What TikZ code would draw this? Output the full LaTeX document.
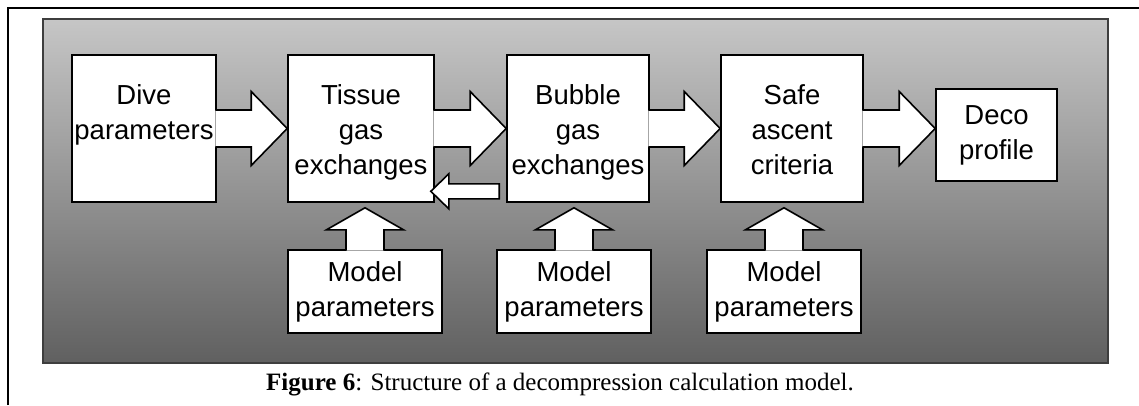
\documentclass[tikz,border=0pt]{standalone}
\usepackage{fontspec}
\setmainfont{Liberation Serif}
\newfontfamily\arialf{Liberation Sans}
\usetikzlibrary{calc}
\definecolor{ptop}{RGB}{198,198,198}
\definecolor{pbot}{RGB}{96,96,96}
\definecolor{pborder}{RGB}{62,62,62}
\newcommand\rblock[2]{%
  \path[barrow] let \p1=(#1.east), \p2=(#2.west) in
    (\x1-1.5pt,\y1+18.5pt) -- (\x2-36pt,\y1+18.5pt) -- (\x2-36pt,\y1+37pt) -- (\x2,\y1)
    -- (\x2-36pt,\y1-37pt) -- (\x2-36pt,\y1-18.5pt) -- (\x1-1.5pt,\y1-18.5pt);}
\newcommand\ublock[2]{%
  \path[barrow] let \p1=(#1.north), \p2=(#2.south) in
    (\x1-19pt,\y1-1.5pt) -- (\x1-19pt,\y2-27pt) -- (\x1-38.5pt,\y2-27pt) -- (\x1,\y2-5pt)
    -- (\x1+38.5pt,\y2-27pt) -- (\x1+19pt,\y2-27pt) -- (\x1+19pt,\y1-1.5pt);}
\begin{document}
\begin{tikzpicture}[x=1pt,y=1pt,
  box/.style={draw=black, fill=white, line width=1.6pt, inner sep=0pt},
  txt/.style={font=\arialf\fontsize{27.5}{35}\selectfont, align=center, inner sep=0pt},
  barrow/.style={draw=black, fill=white, line width=1.6pt, line join=miter},
  frameline/.style={draw=black, line width=2pt}]
\useasboundingbox (0,0) rectangle (1139,-405);
\draw[frameline] (8,-405) -- (8,-8) -- (1139,-8);
\node[draw=pborder, line width=1.6pt, top color=ptop, bottom color=pbot,
      minimum width=1065pt, minimum height=344pt, inner sep=0pt] (panel) at (575.5,-191) {};
% main boxes
\node[box, minimum width=144pt, minimum height=147pt] (dive) at (144,-128.5) {};
\node[box, minimum width=146pt, minimum height=147pt] (tissue) at (361,-128.5) {};
\node[box, minimum width=142pt, minimum height=147pt] (bubble) at (578,-128.5) {};
\node[box, minimum width=142pt, minimum height=147pt] (safe) at (792,-128.5) {};
\node[box, txt, minimum width=121pt, minimum height=92pt] (deco) at (996.5,-135) {Deco\\profile};
% block arrows between main boxes
\rblock{dive}{tissue}
\rblock{tissue}{bubble}
\rblock{bubble}{safe}
\rblock{safe}{deco}
% labels of main boxes
\node[txt, anchor=north] (divet) at ($(dive.north)+(0,-29)$) {\rule{0pt}{21pt}Dive\\parameters};
\node[txt, anchor=north] (tissuet) at ($(tissue.north)+(0,-29)$) {\rule{0pt}{21pt}Tissue\\gas\\exchanges};
\node[txt, anchor=north] (bubblet) at ($(bubble.north)+(0,-29)$) {\rule{0pt}{21pt}Bubble\\gas\\exchanges};
\node[txt, anchor=north] (safet) at ($(safe.north)+(0,-29)$) {\rule{0pt}{21pt}Safe\\ascent\\criteria};
% model boxes
\node[box, txt, minimum width=154pt, minimum height=83pt] (m1) at (365,-291.5) {Model\\parameters};
\node[box, txt, minimum width=154pt, minimum height=83pt] (m2) at (574,-291.5) {Model\\parameters};
\node[box, txt, minimum width=154pt, minimum height=83pt] (m3) at (784,-291.5) {Model\\parameters};
\ublock{m1}{tissue}
\ublock{m2}{bubble}
\ublock{m3}{safe}
% feedback arrow
\path[barrow] let \p1=(bubble.south west), \p2=(tissue.east) in
  (\x1-7pt,\y1+19pt) -- (\x2+14pt,\y1+19pt) -- (\x2+14pt,\y1+29pt) -- (\x2-4pt,\y1+11.5pt)
  -- (\x2+14pt,\y1-6pt) -- (\x2+14pt,\y1+4pt) -- (\x1-7pt,\y1+4pt) -- cycle;
% caption
\node[font=\fontsize{25}{30}\selectfont, anchor=base, inner sep=0pt] (cap) at (560,-390)
  {\textbf{Figure 6}: Structure of a decompression calculation model.};
\end{tikzpicture}
\end{document}
